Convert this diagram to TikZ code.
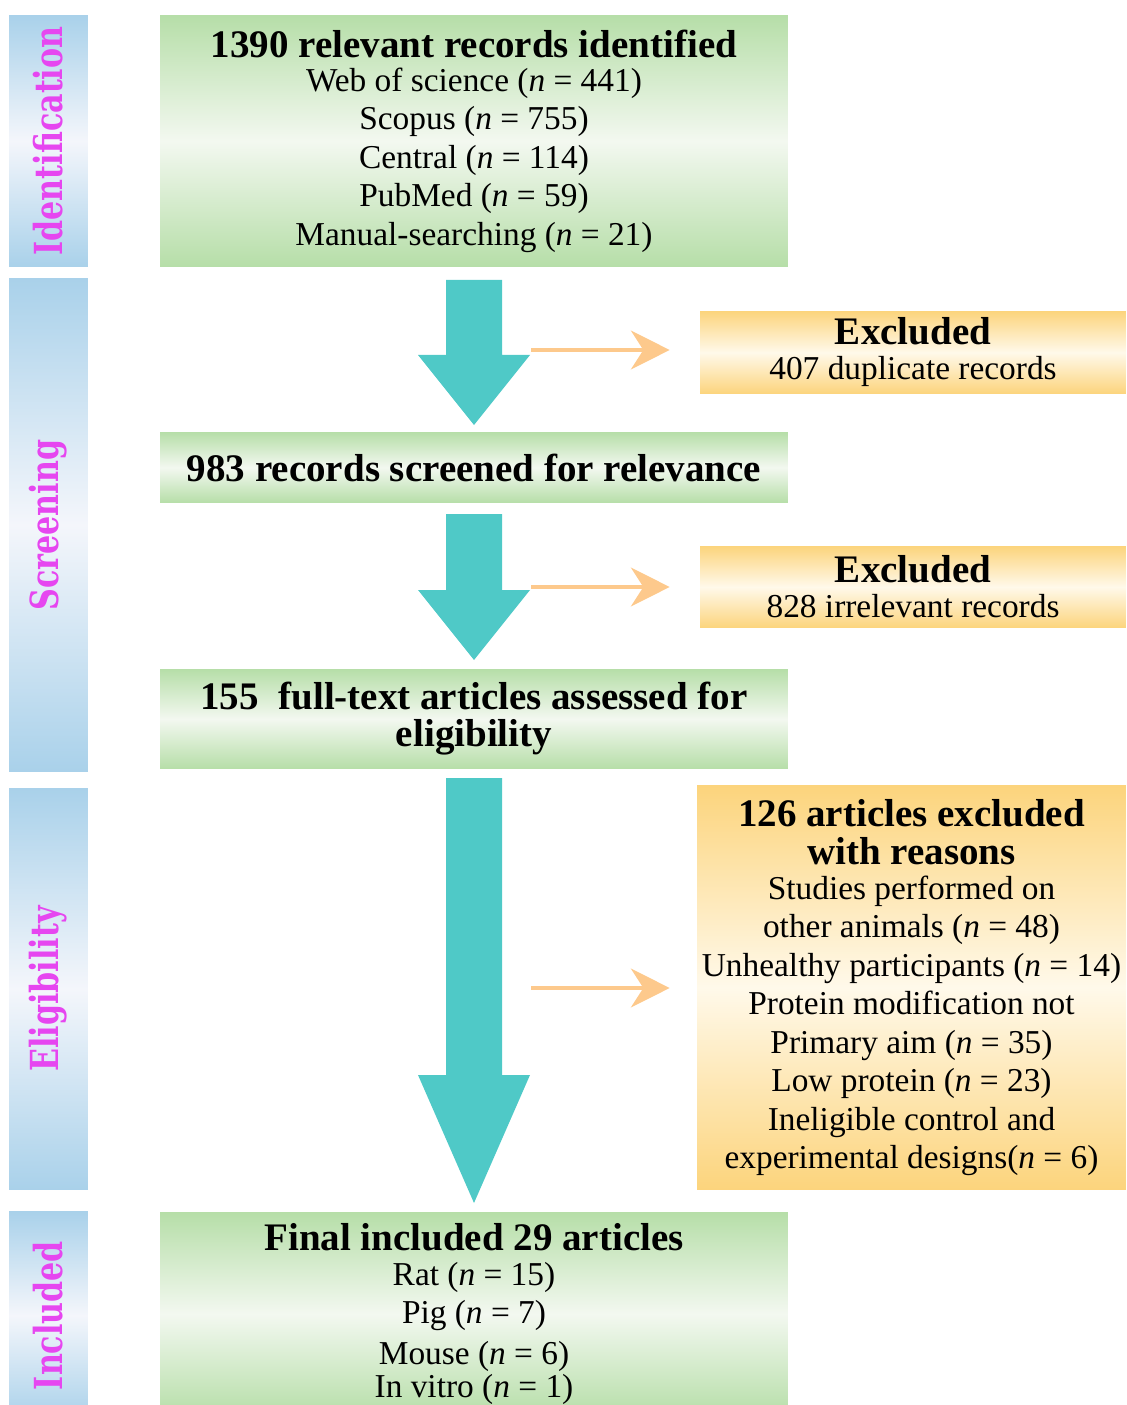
\documentclass[tikz,border=0pt]{standalone}
\usepackage{fontspec}
\setmainfont{Liberation Serif}
\newfontfamily\phasefont[FakeStretch=0.78]{DejaVu Serif}
\usetikzlibrary{arrows.meta}

\definecolor{barblue}{HTML}{A9D1EA}
\definecolor{barmid}{HTML}{F4F6FB}
\definecolor{boxgreen}{HTML}{B6DEA8}
\definecolor{greenmid}{HTML}{F3F8F0}
\definecolor{boxorange}{HTML}{FCD47C}
\definecolor{orangemid}{HTML}{FFF9EA}
\definecolor{flowteal}{HTML}{4FC9C7}
\definecolor{exorange}{HTML}{FDC98C}
\definecolor{phasepink}{HTML}{E646F0}

\newcommand{\hd}[1]{{\fontsize{22.2}{24}\selectfont\bfseries #1}}

\begin{document}
\begin{tikzpicture}[x=0.02cm,y=-0.02cm,
    phase/.style={rotate=90,inner sep=0pt,minimum height=1.58cm,
      top color=barblue,bottom color=barblue,middle color=barmid,
      text=phasepink,font=\phasefont\bfseries\fontsize{22}{24}\selectfont},
    stage/.style={inner sep=0pt,minimum width=12.56cm,align=center,
      top color=boxgreen,bottom color=boxgreen,middle color=greenmid,
      font=\fontsize{19}{21.9}\selectfont},
    excl/.style={inner sep=0pt,minimum width=8.52cm,align=center,
      top color=boxorange,bottom color=boxorange,middle color=orangemid,
      font=\fontsize{19}{21.9}\selectfont},
    flow/.style={fill=flowteal},
    exarrow/.style={draw=exorange,line width=2.8pt,
      -{Stealth[length=22pt,width=22pt,inset=7pt]},shorten >=0.6cm}]

  \useasboundingbox (0,0) rectangle (1126,1405);
  \clip (0,0) rectangle (1126,1405);

  % phases
  \node[phase,minimum width=5.04cm] (idbar) at (48.5,141) {Identification};
  \node[phase,minimum width=9.88cm] (scbar) at (48.5,525) {Screening};
  \node[phase,minimum width=8.04cm] (elbar) at (48.5,989) {Eligibility};
  \node[phase,minimum width=4.18cm] (inbar) at (48.5,1315.5) {Included};

  % main stages
  \node[stage,minimum height=5.04cm] (rec) at (474,141)
    {\hd{1390 relevant records identified}\\[-2.5pt]
     Web of science (\textit{n} = 441)\\
     Scopus (\textit{n} = 755)\\
     Central (\textit{n} = 114)\\
     PubMed (\textit{n} = 59)\\
     Manual-searching (\textit{n} = 21)};
  \node[stage,minimum height=1.42cm] (scr) at (474,467.5)
    {\hd{983 records screened for relevance}};
  \node[stage,minimum height=2.0cm] (full) at (474,719)
    {\hd{155\ \ full-text articles assessed for}\\[-0.8pt]
     \hd{eligibility}};
  \node[stage,minimum height=4.08cm] (fin) at (474,1314)
    {\hd{Final included 29 articles}\\[-2pt]
     Rat (\textit{n} = 15)\\
     Pig (\textit{n} = 7)\\[1.5pt]
     Mouse (\textit{n} = 6)\\[-3pt]
     In vitro (\textit{n} = 1)};

  % exclusions
  \node[excl,minimum height=1.66cm] (dup) at (913,352.5)
    {\hd{Excluded}\\[-2pt] 407 duplicate records};
  \node[excl,minimum height=1.64cm] (irr) at (913,587)
    {\hd{Excluded}\\[-2pt] 828 irrelevant records};
  \node[excl,minimum width=8.58cm,minimum height=8.1cm] (rsn) at (911.5,987.5)
    {\hd{126 articles excluded}\\[-0.3pt]
     \hd{with reasons}\\[-2pt]
     Studies performed on\\
     other animals (\textit{n} = 48)\\
     Unhealthy participants (\textit{n} = 14)\\
     Protein modification not\\
     Primary aim (\textit{n} = 35)\\
     Low protein (\textit{n} = 23)\\
     Ineligible control and\\
     experimental designs(\textit{n} = 6)};

  % flow arrows
  \foreach \top/\neck/\tip in {280/355/425, 514/590/660, 778/1075/1203}
    \fill[flow] (446,\top) -- (502,\top) -- (502,\neck) -- (530,\neck)
      -- (474,\tip) -- (418,\neck) -- (446,\neck) -- cycle;

  \coordinate (d1) at (531,350);
  \coordinate (d2) at (531,587);
  \coordinate (d3) at (531,988);
  \draw[exarrow] (d1) -- (d1 -| dup.west);
  \draw[exarrow] (d2) -- (d2 -| irr.west);
  \draw[exarrow,shorten >=0.54cm] (d3) -- (d3 -| rsn.west);
\end{tikzpicture}
\end{document}
